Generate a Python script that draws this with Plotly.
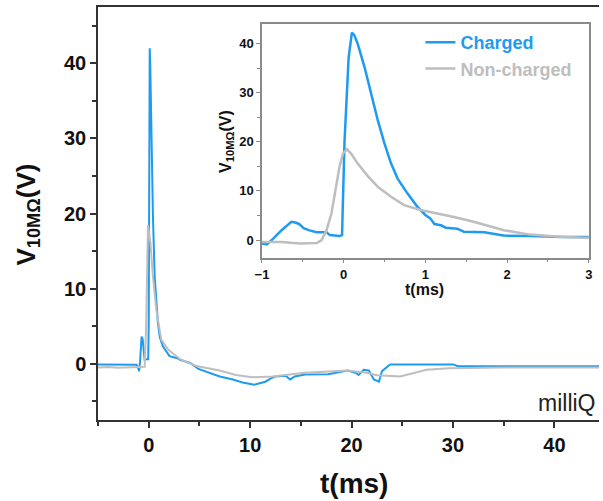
import plotly.graph_objects as go

# ---------------- data ----------------
# Main panel, Charged (blue)
main_t_charged = [-5, -3, -1.2, -1.0, -0.95, -0.85, -0.7, -0.6, -0.5, -0.4, -0.2, -0.05, 0.0, 0.05, 0.1, 0.15,
                  0.26, 0.42, 0.59, 0.75, 0.91, 1.1, 1.4, 2.05, 2.9, 3.1, 4.1, 4.9, 5.85, 7.0, 8.3, 9.25, 10.4,
                  11.5, 12.0, 12.5, 13.5, 13.95, 14.4, 15.4, 17.7, 19.6, 20.4, 20.7, 21.2, 21.7, 22.2, 22.7,
                  23.0, 23.8, 30.0, 30.5, 44.5]
main_v_charged = [-0.1, -0.15, -0.15, -0.7, -1.0, 0.3, 3.6, 3.3, 2.0, 0.5, 0.6, 0.6, 5, 30, 42, 40,
                  29.8, 19.5, 11.6, 8.0, 5.4, 3.5, 2.3, 1.0, 0.7, 0.5, 0.1, -0.7, -1.15, -1.7, -2.1, -2.5, -2.8,
                  -2.4, -2.0, -1.7, -1.6, -2.1, -1.7, -1.45, -1.4, -0.9, -1.2, -1.5, -0.8, -0.9, -2.1, -2.4,
                  -1.0, -0.1, -0.1, -0.35, -0.35]
# Main panel, Non-charged (gray)
main_t_noncharged = [-5, -4, -3, -2, -1, -0.6, -0.4, -0.25, -0.15, -0.07, 0.17, 0.42, 0.75, 1.24, 1.9, 2.7,
                     3.1, 4.7, 7.0, 8.6, 10.2, 12.2, 15.4, 19.6, 21.5, 22.5, 24.8, 27.4, 29.6, 35, 44.5]
main_v_noncharged = [-0.5, -0.45, -0.55, -0.5, -0.45, -0.5, -0.4, 5, 12, 18.5, 16.1, 11.6, 7.2, 3.2, 1.9, 1.0,
                     0.6, -0.3, -0.9, -1.5, -1.8, -1.7, -1.2, -0.9, -1.2, -1.55, -1.7, -0.8, -0.6, -0.5, -0.5]

# Inset panel (zoom of -1 .. 3 ms)
inset_t_charged = [-1.0, -0.94, -0.88, -0.76, -0.64, -0.58, -0.54, -0.49, -0.43, -0.33, -0.21, -0.17, -0.05,
                   -0.02, 0.01, 0.03, 0.06, 0.10, 0.13, 0.17, 0.255, 0.336, 0.417, 0.498, 0.579, 0.66, 0.78,
                   0.90, 1.0, 1.06, 1.11, 1.19, 1.25, 1.39, 1.47, 1.72, 1.80, 1.955, 2.28, 2.68, 3.0]
inset_v_charged = [-0.7, -0.9, 0.0, 2.0, 3.7, 3.5, 3.2, 2.4, 2.0, 1.6, 1.6, 1.0, 0.8,
                   1.0, 20, 28, 37, 42.2, 41.7, 40, 35.2, 29.8, 24.4, 19.7, 15.6, 12.5, 9.5,
                   6.8, 5.1, 4.4, 3.25, 3.0, 2.5, 2.3, 1.7, 1.6, 1.4, 0.9, 0.8, 0.6, 0.6]
inset_t_noncharged = [-1.0, -0.76, -0.54, -0.33, -0.27, -0.21, -0.15, -0.09, -0.05, -0.008, 0.04, 0.09, 0.17,
                      0.30, 0.42, 0.58, 0.74, 0.94, 1.15, 1.35, 1.59, 1.80, 1.96, 2.28, 2.60, 3.0]
inset_v_noncharged = [-0.4, -0.4, -0.7, -0.6, 0.0, 2.0, 5.4, 10.8, 15.0, 17.6, 18.5, 17.6, 15.6,
                      12.9, 10.8, 8.8, 7.1, 6.1, 5.4, 4.7, 3.7, 2.8, 2.0, 1.1, 0.7, 0.4]

series_names = ["Charged", "Non-charged"]
main_x_ticks = [0, 10, 20, 30, 40]
main_y_ticks = [0, 10, 20, 30, 40]
inset_x_ticks = [-1, 0, 1, 2, 3]
inset_y_ticks = [0, 10, 20, 30, 40]

# ---------------- styling ----------------
BLUE = "#1E9BF0"
GRAY = "#BEBEBE"
FONT = "Liberation Sans, Arial, sans-serif"
W, H = 603, 501
ML, MR, MT, MB = 98, 0, 7, 81
PW, PH = W - ML - MR, H - MT - MB


def px(xp):
    return (xp - ML) / PW


def py(yp):
    return (H - MB - yp) / PH


fig = go.Figure()

fig.add_trace(go.Scatter(x=main_t_charged, y=main_v_charged, mode="lines",
                         line=dict(color=BLUE, width=2), showlegend=False, xaxis="x", yaxis="y"))
fig.add_trace(go.Scatter(x=main_t_noncharged, y=main_v_noncharged, mode="lines",
                         line=dict(color=GRAY, width=2), showlegend=False, xaxis="x", yaxis="y"))

fig.add_trace(go.Scatter(x=inset_t_charged, y=inset_v_charged, mode="lines",
                         line=dict(color=BLUE, width=2.5),
                         name="<span style='color:%s'>%s</span>" % (BLUE, series_names[0]),
                         xaxis="x2", yaxis="y2"))
fig.add_trace(go.Scatter(x=inset_t_noncharged, y=inset_v_noncharged, mode="lines",
                         line=dict(color=GRAY, width=2.5),
                         name="<span style='color:%s'>%s</span>" % (GRAY, series_names[1]),
                         xaxis="x2", yaxis="y2"))

axis_main = dict(showline=True, linewidth=1.5, linecolor="#333", ticks="outside", ticklen=6,
                 tickwidth=1.5, tickcolor="#333", showgrid=False, zeroline=False,
                 tickfont=dict(family=FONT, size=20, color="#111", weight="bold"))
axis_inset = dict(showline=True, linewidth=1.5, linecolor="#8a8a8a", mirror=True, ticks="outside",
                  ticklen=4, tickwidth=1.2, tickcolor="#8a8a8a", showgrid=False, zeroline=False,
                  tickfont=dict(family=FONT, size=13, color="#111", weight="bold"))

fig.update_layout(
    width=W, height=H,
    margin=dict(l=ML, r=MR, t=MT, b=MB),
    paper_bgcolor="white", plot_bgcolor="white",
    hovermode=False,
    xaxis=dict(axis_main, range=[-5, 44.4], tickvals=main_x_ticks, mirror=True,
               minor=dict(dtick=5, tick0=0, ticks="outside", ticklen=4, tickcolor="#333")),
    yaxis=dict(axis_main, range=[-7.5, 47.5], tickvals=main_y_ticks,
               minor=dict(dtick=5, tick0=0, ticks="outside", ticklen=4, tickcolor="#333")),
    xaxis2=dict(axis_inset, domain=[px(263.3), px(592.7)], anchor="y2", range=[-1, 3],
                tickvals=inset_x_ticks,
                minor=dict(dtick=0.5, tick0=0, ticks="outside", ticklen=3, tickcolor="#8a8a8a")),
    yaxis2=dict(axis_inset, domain=[py(257.7), py(24.3)], anchor="x2", range=[-3.6, 43.9],
                tickvals=inset_y_ticks,
                minor=dict(dtick=5, tick0=0, ticks="outside", ticklen=3, tickcolor="#8a8a8a")),
    legend=dict(x=px(423), y=py(24), xanchor="left", yanchor="top", bgcolor="rgba(0,0,0,0)",
                font=dict(family=FONT, size=18, weight="bold"), tracegroupgap=0),
    annotations=[
        dict(text="V<sub>10MΩ</sub>(V)", xref="paper", yref="paper", x=px(27), y=py(215),
             textangle=-90, showarrow=False, xanchor="center", yanchor="middle",
             font=dict(family=FONT, size=26, color="#111", weight="bold")),
        dict(text="t(ms)", xref="paper", yref="paper", x=px(356), y=py(483),
             showarrow=False, xanchor="center", yanchor="middle",
             font=dict(family=FONT, size=28, color="#111", weight="bold")),
        dict(text="milliQ", xref="paper", yref="paper", x=px(540), y=py(403),
             showarrow=False, xanchor="left", yanchor="middle",
             font=dict(family=FONT, size=23, color="#222")),
        dict(text="V<sub>10MΩ</sub>(V)", xref="paper", yref="paper", x=px(227), y=py(141),
             textangle=-90, showarrow=False, xanchor="center", yanchor="middle",
             font=dict(family=FONT, size=16, color="#111", weight="bold")),
        dict(text="t(ms)", xref="paper", yref="paper", x=px(427), y=py(289),
             showarrow=False, xanchor="center", yanchor="middle",
             font=dict(family=FONT, size=16, color="#111", weight="bold")),
    ],
)

fig.write_html("out.html", config={"displayModeBar": False},
               post_script="document.body.style.margin='0';")
